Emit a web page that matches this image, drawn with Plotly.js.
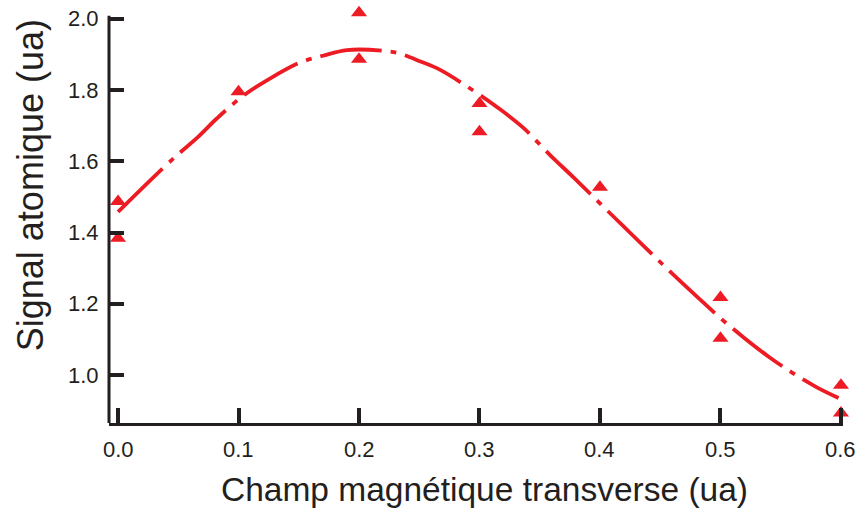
<!DOCTYPE html>
<html>
<head>
<meta charset="utf-8">
<script src="https://cdn.plot.ly/plotly-3.0.1.min.js"></script>
<style>html,body{margin:0;padding:0;background:#fff;}#chart{width:862px;height:508px;}</style>
</head>
<body>
<div id="chart"></div>
<script>
// Measured data points (triangles)
var dataX = [0.0, 0.0, 0.1, 0.2, 0.2, 0.3, 0.3, 0.4, 0.5, 0.5, 0.6, 0.6];
var dataY = [1.487, 1.384, 1.795, 2.017, 1.886, 1.762, 1.683, 1.527, 1.218, 1.104, 0.972, 0.894];

// Fitted curve
var fitX = [0.0, 0.044, 0.066, 0.082, 0.104, 0.126, 0.151, 0.170, 0.190, 0.220, 0.234, 0.251, 0.267, 0.295, 0.315, 0.336, 0.359, 0.378, 0.400, 0.420, 0.440, 0.460, 0.480, 0.500, 0.520, 0.540, 0.560, 0.580, 0.598];
var fitY = [1.458, 1.602, 1.667, 1.720, 1.784, 1.832, 1.877, 1.896, 1.912, 1.910, 1.902, 1.880, 1.857, 1.798, 1.751, 1.695, 1.616, 1.555, 1.482, 1.416, 1.350, 1.285, 1.222, 1.160, 1.104, 1.052, 1.006, 0.966, 0.936];

var xTicks = [0, 0.1, 0.2, 0.3, 0.4, 0.5, 0.6];
var xTickText = ['0.0', '0.1', '0.2', '0.3', '0.4', '0.5', '0.6'];
var yTicks = [1.0, 1.2, 1.4, 1.6, 1.8, 2.0];
var yTickText = ['1.0', '1.2', '1.4', '1.6', '1.8', '2.0'];
var xTitle = 'Champ magnétique transverse (ua)';
var yTitle = 'Signal atomique (ua)';

var red = '#ed1c24';
var ink = '#231f20';
var fontFam = 'Liberation Sans, Arial, Helvetica, sans-serif';

var yMin = 0.866, yMax = 2.03, yLineTop = 2.0084;

var traces = [
  {
    x: fitX, y: fitY, type: 'scatter', mode: 'lines',
    line: {color: red, width: 3.8, shape: 'spline', dash: '62px,9px,6px,9px'},
    hoverinfo: 'skip', showlegend: false, cliponaxis: false
  },
  {
    x: dataX, y: dataY, type: 'scatter', mode: 'markers',
    marker: {symbol: 'triangle-up', size: 14, color: red, line: {width: 0}},
    showlegend: false, cliponaxis: false
  }
];

var tickFont = {size: 22, color: ink, family: fontFam};

// Tick labels placed through the axes' own scales (x on 'x', y on 'y')
var annotations = [];
xTicks.forEach(function (v, i) {
  annotations.push({text: xTickText[i], xref: 'x', yref: 'paper', x: v, y: -0.064,
    xanchor: 'center', yanchor: 'middle', showarrow: false, font: tickFont});
});
yTicks.forEach(function (v, i) {
  annotations.push({text: yTickText[i], xref: 'paper', yref: 'y', x: -0.011, y: v,
    xanchor: 'right', yanchor: 'middle', showarrow: false, font: tickFont});
});
annotations.push({text: xTitle, xref: 'paper', yref: 'paper', x: 0.511, y: -0.161,
  xanchor: 'center', yanchor: 'middle', showarrow: false,
  font: {size: 33.5, color: ink, family: fontFam}});
annotations.push({text: yTitle, xref: 'paper', yref: 'paper', x: -0.1076, y: 0.573,
  xanchor: 'center', yanchor: 'middle', showarrow: false, textangle: -90,
  font: {size: 36, color: ink, family: fontFam}});

var layout = {
  width: 862, height: 508,
  margin: {l: 109, r: 19, t: 7.5, b: 85},
  paper_bgcolor: '#fff', plot_bgcolor: '#fff',
  font: {family: fontFam, color: ink, size: 22},
  showlegend: false,
  xaxis: {
    range: [-0.0075, 0.6017],
    tickmode: 'array', tickvals: xTicks, ticktext: xTickText,
    showticklabels: false,
    ticks: 'inside', ticklen: 15, tickwidth: 4, tickcolor: ink,
    showline: true, linecolor: ink, linewidth: 3,
    showgrid: false, zeroline: false, automargin: false
  },
  yaxis: {
    range: [yMin, yMax],
    tickmode: 'array', tickvals: yTicks, ticktext: yTickText,
    showticklabels: false,
    ticks: 'inside', ticklen: 15, tickwidth: 4, tickcolor: ink,
    showline: false,
    showgrid: false, zeroline: false, automargin: false
  },
  shapes: [
    {type: 'line', xref: 'paper', yref: 'y', x0: 0, x1: 0, y0: yMin, y1: yLineTop,
     line: {color: ink, width: 3}, layer: 'above'}
  ],
  annotations: annotations
};

Plotly.newPlot('chart', traces, layout, {displayModeBar: false, staticPlot: true});
</script>
</body>
</html>
